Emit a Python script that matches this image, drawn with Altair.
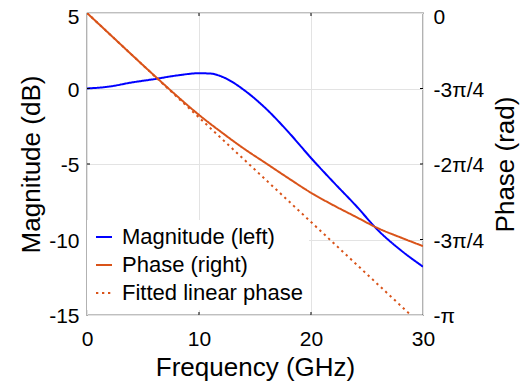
import math
import altair as alt
import pandas as pd

# ---- data ----
freq_mag = [0, 2, 4, 6, 8, 10, 11, 12, 13, 14, 15, 16, 18, 20, 22, 24, 26, 28, 30]
mag_db = [0, 0.13, 0.4, 0.62, 0.86, 1.01, 0.99, 0.8, 0.42, -0.09, -0.68, -1.35,
          -2.9, -4.6, -6.2, -7.75, -9.4, -10.7, -11.8]

freq_phase = [0, 2, 4, 6, 8, 10, 12, 14, 16, 18, 20, 22, 24, 26, 28, 30]
phase_rad = [0, -0.217, -0.435, -0.65, -0.86, -1.06, -1.24, -1.41, -1.565,
             -1.72, -1.87, -2.0, -2.12, -2.24, -2.335, -2.425]

freq_fit = [0, 28.9]
phase_fit = [0, -math.pi]

series = ["Magnitude (left)", "Phase (right)", "Fitted linear phase"]
colors = ["#0000FF", "#D95319", "#D95319"]
dashes = [[1, 0], [1, 0], [2.3, 3.7]]
widths = [2, 2, 2.5]

x_ticks = [0, 10, 20, 30]
mag_ticks = [5, 0, -5, -10, -15]
phase_ticks = [0, -math.pi / 4, -math.pi / 2, -3 * math.pi / 4, -math.pi]
phase_tick_labels = ["0", "-3π/4", "-2π/4", "-3π/4", "-π"]

FONT = "Liberation Sans"
W, H = 336, 302
TICK = 3

mag_df = pd.DataFrame({"f": freq_mag, "v": mag_db, "s": series[0]})
ph_df = pd.concat([
    pd.DataFrame({"f": freq_phase, "v": phase_rad, "s": series[1]}),
    pd.DataFrame({"f": freq_fit, "v": phase_fit, "s": series[2]}),
])
xtick_bottom = pd.DataFrame({"f": x_ticks[1:-1], "v": [mag_ticks[-1]] * 2})
xtick_top = pd.DataFrame({"f": x_ticks[1:-1], "v": [mag_ticks[0]] * 2})
ytick_df = pd.DataFrame({"v": mag_ticks[1:-1]})

label_expr = " : ".join(
    f"abs(datum.value - ({v})) < 1e-6 ? '{t}'" for v, t in zip(phase_ticks, phase_tick_labels)
) + " : ''"

legend = alt.Legend(
    title=None, orient="none", legendX=0, legendY=207,
    fillColor="white", padding=6, symbolType="stroke", symbolSize=256,
    symbolStrokeWidth=2, labelFont=FONT, labelFontSize=22, labelColor="black",
    rowPadding=6, labelOffset=7, labelLimit=400,
)

xscale = alt.Scale(domain=[0, 30], nice=False)
x = alt.X("f:Q", scale=xscale,
          axis=alt.Axis(title="Frequency (GHz)", values=x_ticks, labelPadding=13,
                        titlePadding=5, format="d", labelFlush=False))
yleft = alt.Y("v:Q", scale=alt.Scale(domain=[-15, 5], nice=False),
              axis=alt.Axis(title="Magnitude (dB)", values=mag_ticks, labelPadding=8,
                            titlePadding=4, labelExpr="'' + datum.value",
                            labelOffset={"expr": "datum.value == 5 ? 4.5 : 1.5"},
                            labelFlush=False))
color = alt.Color("s:N", scale=alt.Scale(domain=series, range=colors), legend=legend)
dash = alt.StrokeDash("s:N", scale=alt.Scale(domain=series, range=dashes), legend=legend)
swidth = alt.StrokeWidth("s:N", scale=alt.Scale(domain=series, range=widths), legend=None)

mag = alt.Chart(mag_df).mark_line(clip=True, interpolate="monotone").encode(
    x=x, y=yleft, color=color, strokeDash=dash, strokeWidth=swidth,
)

tick_style = dict(color="black", strokeWidth=1)
tb = alt.Chart(xtick_bottom).mark_rule(**tick_style).encode(
    x=alt.X("f:Q", scale=xscale), y=alt.Y("v:Q"), y2=alt.value(H - TICK))
tt = alt.Chart(xtick_top).mark_rule(**tick_style).encode(
    x=alt.X("f:Q", scale=xscale), y=alt.Y("v:Q"), y2=alt.value(TICK))
tl = alt.Chart(ytick_df).mark_rule(**tick_style).encode(
    y=alt.Y("v:Q"), x=alt.value(0), x2=alt.value(TICK))
tr = alt.Chart(ytick_df).mark_rule(**tick_style).encode(
    y=alt.Y("v:Q"), x=alt.value(W - TICK), x2=alt.value(W))

left_layer = alt.layer(mag, tb, tt, tl, tr)

ph = alt.Chart(ph_df).mark_line(clip=True, interpolate="monotone").encode(
    x=x,
    y=alt.Y("v:Q", scale=alt.Scale(domain=[-math.pi, 0], nice=False, zero=False),
            axis=alt.Axis(title="Phase (rad)", orient="right", values=phase_ticks,
                          labelExpr=label_expr, grid=False, labelPadding=10,
                          titlePadding=9, titleAngle=270, titleBaseline="top",
                          labelOffset={"expr": "datum.value == 0 ? 4.5 : 1.5"},
                          labelFlush=False)),
    color=color, strokeDash=dash, strokeWidth=swidth, detail="s:N",
)

chart = alt.layer(left_layer, ph).resolve_scale(y="independent").properties(
    width=W, height=H,
    autosize=alt.AutoSizeParams(type="none"),
    padding={"left": 79, "top": 5, "right": 99, "bottom": 67},
    background="white",
).configure_view(stroke="black", strokeWidth=1.2).configure_axis(
    labelFont=FONT, labelFontSize=21, labelColor="black",
    titleFont=FONT, titleFontSize=26, titleColor="black", titleFontWeight="normal",
    domain=False, ticks=False, gridColor="#e3e3e3", gridWidth=1,
)

chart.save("out.html", embed_options={"renderer": "svg", "actions": False})
